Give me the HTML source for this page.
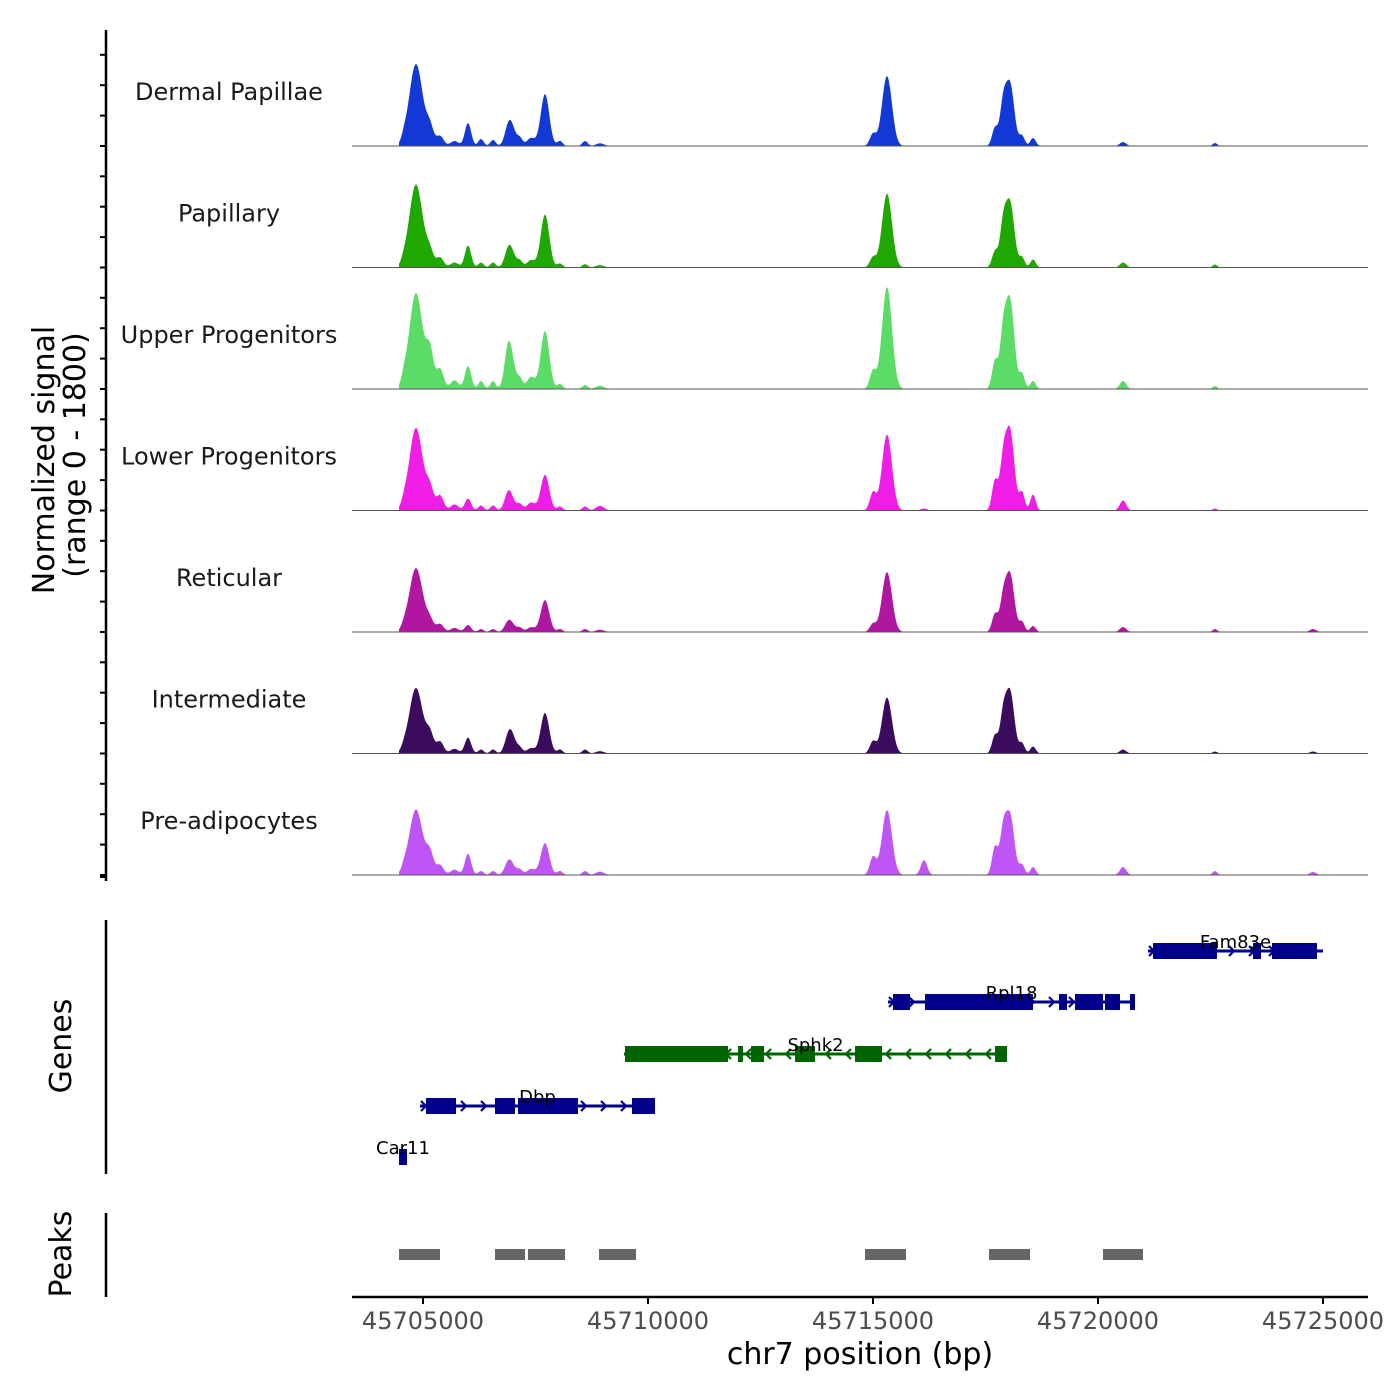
<!DOCTYPE html>
<html><head><meta charset="utf-8">
<style>
html,body{margin:0;padding:0;background:#fff;}
svg{display:block;font-family:"DejaVu Sans","Liberation Sans",sans-serif;}
</style></head>
<body>
<svg id="chart" width="1400" height="1400" viewBox="0 0 1400 1400" xmlns="http://www.w3.org/2000/svg">
  <g id="tracks"></g>
  <g id="genes"></g>
  <g id="peaks"></g>
  <g id="axes"></g>
</svg>
<script>
// ---- data ----
const trackNames = ["Dermal Papillae","Papillary","Upper Progenitors","Lower Progenitors","Reticular","Intermediate","Pre-adipocytes"];
const trackColors = ["#1239d6","#1fa800","#5bdc66","#f01de6","#b0169f","#3b0c5e","#bf55f5"];
// peak centers (bp) and widths (bp sigma)
const peakCenters = [45704844,45705156,45705378,45706000,45706289,45706556,45706889,45706978,45707156,45707711,45708044,45708600,45708933,45715000,45715311,45716133,45717711,45717889,45718044,45718311,45718556,45720556,45722600,45724778,45704578,45705700,45707400];
const peakSigma  = [150,80,80,70,60,60,80,90,60,95,60,60,90,70,110,70,65,70,95,60,60,70,50,70,50,90,90];
// heights per track in signal units (0-1800)
const dermal   = [1230,255,150,345,105,90,210,240,105,780,75,75,40,180,1050,0,270,550,930,150,120,60,45,0,60,75,120];
const papillary= [1245,210,150,330,75,75,210,180,90,795,60,50,35,150,1110,0,240,560,975,150,120,75,45,0,45,75,110];
const upper    = [1440,525,300,345,120,120,520,300,140,870,75,60,50,270,1530,0,420,720,1330,225,120,120,45,0,90,130,180];
const lower    = [1240,300,225,180,75,75,225,120,90,535,60,60,70,270,1140,30,450,650,1200,270,240,150,30,0,60,90,120];
const reticular= [960,150,120,105,45,45,120,90,60,480,45,45,35,120,900,0,270,430,870,150,90,75,45,45,40,60,70];
const intermed = [985,270,180,240,60,60,180,240,75,610,60,60,35,180,840,0,270,500,930,150,105,60,30,30,40,70,80];
const preadipo = [985,300,150,320,60,60,150,120,75,480,60,60,50,270,975,225,420,580,900,150,120,120,60,45,60,80,90];
const trackValues = [dermal,papillary,upper,lower,reticular,intermed,preadipo];
const xTicks = [45705000,45710000,45715000,45720000,45725000];
const xTickLabels = ["45705000","45710000","45715000","45720000","45725000"];
// genes
const geneNames = ["Fam83e","Rpl18","Sphk2","Dbp","Car11"];
const geneStrand = [1,1,-1,1,1];
const geneStart = [45721111,45715333,45709467,45704933,45704467];
const geneEnd   = [45725000,45720822,45717978,45710156,45704644];
const geneExons = [
 [[45721222,45722644],[45723444,45723622],[45723867,45724867]],
 [[45715444,45715822],[45716156,45718556],[45719133,45719311],[45719489,45720111],[45720156,45720489],[45720711,45720822]],
 [[45709489,45710267],[45710267,45711778],[45712000,45712111],[45712289,45712578],[45713267,45713711],[45714600,45715200],[45717711,45717978]],
 [[45705067,45705733],[45706600,45707044],[45707111,45708444],[45709644,45710156]],
 [[45704467,45704644]]
];
const peakStarts = [45704467,45706600,45707333,45708911,45714822,45717578,45720111];
const peakEnds   = [45705378,45707267,45708156,45709733,45715733,45718489,45721000];

// ---- scales ----
const X0=352, X1=1368;
const x = bp => 423 + (bp-45705000)*0.045;
const baselines=[146,267.5,389,510.5,632,753.5,875];
const yUnit = v => v/1800*120;
const NS="http://www.w3.org/2000/svg";
function mk(tag, attrs, parent){const e=document.createElementNS(NS,tag);for(const k in attrs)e.setAttribute(k,attrs[k]);parent.appendChild(e);return e;}

// ---- tracks ----
const tg=document.getElementById('tracks');
trackNames.forEach((name,ti)=>{
  const base=baselines[ti];
  const g=mk('g',{},tg);
  
  
  const vals=trackValues[ti];
  let d='M399,'+base;
  for(let px=399;px<=1368;px+=1){
    let s=0;
    for(let i=0;i<peakCenters.length;i++){
      const c=x(peakCenters[i]), sg=peakSigma[i]*0.045;
      const dx=(px-c)/sg; if(Math.abs(dx)<5) s+=vals[i]*Math.exp(-0.5*dx*dx);
    }
    d+=' L'+px+','+(base-Math.min(yUnit(s),121)).toFixed(2);
  }
  d+=' L1368,'+base+' Z';
  const area=mk('path',{d:d,fill:trackColors[ti]},g);
  
  
  const bl=mk('line',{x1:X0,x2:X1,y1:base,y2:base,stroke:'#555',"stroke-width":1},g);
  
  
  const t=mk('text',{x:229,y:base-46,"text-anchor":"middle","font-size":24,fill:"#1a1a1a"},g);
  t.textContent=name;
  
  
});

// ---- genes ----
const gg=document.getElementById('genes');
const geneRowY=[951,1002,1054,1106,1157];
geneNames.forEach((name,gi)=>{
  const y=geneRowY[gi], col=gi==2?'#006400':'#00008b';
  const g=mk('g',{},gg);
  
  
  const a=x(geneStart[gi]), b=x(geneEnd[gi]);
  mk('line',{x1:a,x2:b,y1:y,y2:y,stroke:col,"stroke-width":3},g);
  const dir=geneStrand[gi];
  if(b-a>20){
    for(let px=a+4;px<b-4;px+=20){
      const p=dir>0?`M${px-3},${y-5} L${px+2},${y} L${px-3},${y+5}`:`M${px+3},${y-5} L${px-2},${y} L${px+3},${y+5}`;
      mk('path',{d:p,stroke:col,"stroke-width":2.2,fill:"none"},g);
    }
  }
  geneExons[gi].forEach(ex=>{
    const r=mk('rect',{x:x(ex[0]),y:y-8,width:Math.max(x(ex[1])-x(ex[0]),3),height:16,fill:col},g);
    
    
  });
  const lab=mk('text',{x:(a+b)/2,y:y-3,"text-anchor":"middle","font-size":18,fill:"#000"},g);
  lab.textContent=name;
  
  
});

// ---- peaks ----
const pg=document.getElementById('peaks');
peakStarts.forEach((s,i)=>{
  const r=mk('rect',{x:x(s),y:1249,width:x(peakEnds[i])-x(s),height:11,fill:'#666'},pg);
  
  
});

// ---- axes ----
const ag=document.getElementById('axes');
function line(x1,y1,x2,y2,w,c){return mk('line',{x1,y1,x2,y2,stroke:c||'#000',"stroke-width":w},ag);}
let l=line(106,30,106,881,2.5);  
for(let ti=0;ti<7;ti++){for(let k=0;k<4;k++){const yy=baselines[ti]-k*30.4;line(100,yy,106,yy,2);}}
line(100,877,106,877,2);
l=line(106,920,106,1174,2.5);  
l=line(106,1213,106,1297,2.5);  
l=line(X0,1297,X1,1297,2.5);  
xTicks.forEach((v,i)=>{
  line(x(v),1297,x(v),1304,2);
  const t=mk('text',{x:x(v),y:1329,"text-anchor":"middle","font-size":24,fill:"#4d4d4d"},ag);
  t.textContent=xTickLabels[i];
  
  
});
function txt(s,xx,yy,size,rot,name){
  const t=mk('text',{x:xx,y:yy,"text-anchor":"middle","font-size":size,fill:"#000"},ag);
  if(rot)t.setAttribute('transform',`rotate(-90 ${xx} ${yy})`);
  t.textContent=s;
  
  
}
txt("chr7 position (bp)",860,1364,30,false,'x-axis-title');
txt("Normalized signal",54,460,30,true,'y-axis-title');
txt("(range 0 - 1800)",85,455,30,true,'y-axis-subtitle');
txt("Genes",71,1046,30,true,'genes-axis-title');
txt("Peaks",71,1254,30,true,'peaks-axis-title');
</script>
</body></html>
